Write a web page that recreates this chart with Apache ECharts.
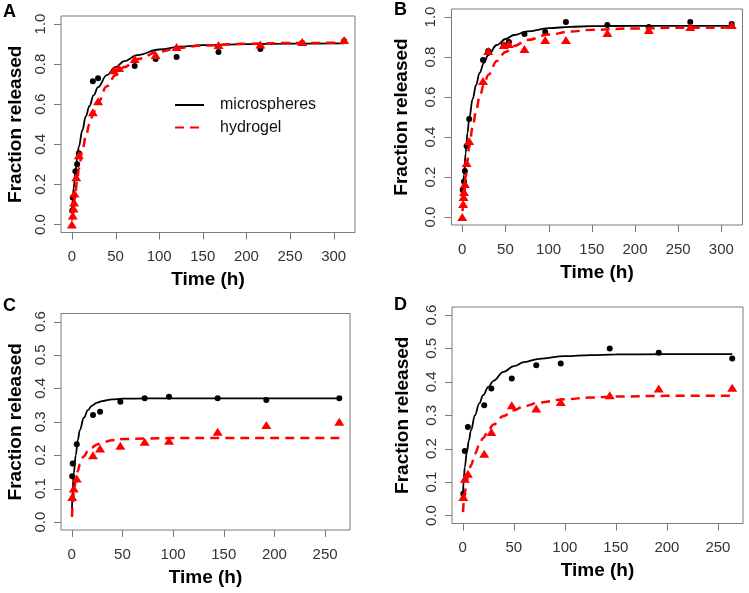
<!DOCTYPE html>
<html><head><meta charset="utf-8">
<script src="https://cdn.jsdelivr.net/npm/echarts@6/dist/echarts.min.js"></script>
<style>html,body{margin:0;padding:0;background:#fff}#c{width:749px;height:593px}</style>
</head><body><div id="c"></div>
<script>
// ---- labels / ticks ----
const panelLabels = ['A', 'B', 'C', 'D'];
const xTicksAB = [0, 50, 100, 150, 200, 250, 300];
const xTicksCD = [0, 50, 100, 150, 200, 250];
const yTicksAB = [0, 0.2, 0.4, 0.6, 0.8, 1.0];
const yTicksCD = [0, 0.1, 0.2, 0.3, 0.4, 0.5, 0.6];
const xTitle = 'Time (h)';
const yTitle = 'Fraction released';
const legendNames = ['microspheres', 'hydrogel'];

// ---- Panel A ----
const A_msPoints = [[0.5,0.07],[1,0.135],[4,0.265],[6,0.3],[8,0.355],[24,0.715],[30,0.73],[48,0.765],[72,0.79],[96,0.825],[120,0.835],[168,0.86],[216,0.875],[264,0.905],[312,0.915]];
const A_hgPoints = [[0,0],[1,0.045],[2,0.08],[2.5,0.11],[3,0.155],[5,0.235],[8,0.345],[24,0.56],[30,0.615],[48,0.77],[54,0.78],[72,0.825],[96,0.845],[120,0.885],[168,0.895],[216,0.898],[264,0.91],[312,0.92]];
const A_msCurve = [[0.3,0.08],[1,0.13],[2,0.18],[4,0.26],[6,0.33],[8,0.39],[12,0.47],[16,0.54],[20,0.59],[25,0.645],[30,0.685],[40,0.745],[50,0.785],[60,0.815],[75,0.845],[100,0.873],[125,0.887],[150,0.895],[200,0.9],[250,0.902],[312,0.903]];
const A_hgCurve = [[0.3,0.02],[1,0.05],[2,0.09],[4,0.16],[6,0.22],[8,0.28],[12,0.37],[16,0.44],[20,0.5],[25,0.56],[30,0.61],[40,0.69],[50,0.745],[60,0.785],[75,0.825],[100,0.862],[125,0.882],[150,0.893],[200,0.902],[250,0.905],[312,0.907]];

// ---- Panel B ----
const B_msPoints = [[0.5,0.135],[2,0.178],[3,0.23],[5,0.355],[8,0.49],[24,0.785],[30,0.83],[48,0.86],[54,0.875],[72,0.915],[96,0.925],[120,0.975],[168,0.96],[216,0.95],[264,0.975],[312,0.965]];
const B_hgPoints = [[0,0],[1,0.065],[1.5,0.1],[2,0.125],[3,0.165],[5,0.27],[8,0.38],[24,0.68],[30,0.83],[48,0.86],[54,0.865],[72,0.84],[96,0.885],[120,0.885],[168,0.92],[216,0.935],[264,0.95],[312,0.96]];
const B_msCurve = [[0.3,0.1],[1,0.15],[2,0.21],[4,0.32],[6,0.42],[8,0.49],[12,0.59],[16,0.66],[20,0.72],[25,0.77],[30,0.81],[40,0.86],[50,0.89],[60,0.91],[75,0.928],[100,0.944],[125,0.951],[150,0.954],[200,0.956],[250,0.956],[312,0.956]];
const B_hgCurve = [[0.3,0.03],[1,0.07],[2,0.12],[4,0.2],[6,0.28],[8,0.35],[12,0.45],[16,0.53],[20,0.6],[25,0.66],[30,0.71],[40,0.78],[50,0.825],[60,0.855],[75,0.885],[100,0.912],[125,0.927],[150,0.936],[200,0.943],[250,0.946],[312,0.947]];

// ---- Panel C ----
const C_msPoints = [[0.5,0.137],[1,0.175],[5,0.233],[21,0.32],[28,0.33],[48,0.36],[72,0.37],[96,0.375],[144,0.37],[192,0.365],[264,0.37]];
const C_hgPoints = [[0.5,0.075],[2,0.1],[5,0.13],[21,0.2],[28,0.22],[48,0.228],[72,0.24],[96,0.243],[144,0.27],[192,0.29],[264,0.3]];
const C_msCurve = [[0.3,0.04],[1,0.1],[2,0.145],[4,0.2],[6,0.245],[8,0.275],[12,0.312],[16,0.335],[20,0.348],[25,0.357],[30,0.362],[40,0.367],[50,0.369],[75,0.37],[100,0.37],[150,0.37],[200,0.37],[264,0.37]];
const C_hgCurve = [[0.3,0.015],[1,0.05],[2,0.085],[4,0.125],[6,0.152],[8,0.172],[12,0.197],[16,0.212],[20,0.223],[25,0.232],[30,0.238],[40,0.245],[50,0.248],[75,0.25],[100,0.251],[150,0.251],[200,0.251],[264,0.251]];

// ---- Panel D ----
const D_msPoints = [[0.5,0.065],[2,0.193],[5,0.265],[21,0.33],[28,0.38],[48,0.41],[72,0.45],[96,0.455],[144,0.5],[192,0.487],[264,0.47]];
const D_hgPoints = [[0.5,0.055],[2,0.11],[5,0.125],[21,0.185],[28,0.25],[48,0.33],[72,0.32],[96,0.34],[144,0.36],[192,0.38],[264,0.382]];
const D_msCurve = [[0.3,0.07],[1,0.11],[2,0.145],[4,0.19],[6,0.225],[8,0.255],[12,0.3],[16,0.335],[20,0.36],[25,0.385],[30,0.403],[40,0.43],[50,0.447],[60,0.459],[75,0.469],[100,0.477],[125,0.48],[150,0.482],[200,0.483],[264,0.483]];
const D_hgCurve = [[0.3,0.01],[1,0.04],[2,0.07],[4,0.105],[6,0.13],[8,0.15],[12,0.185],[16,0.21],[20,0.232],[25,0.255],[30,0.272],[40,0.298],[50,0.315],[60,0.327],[75,0.338],[100,0.348],[125,0.353],[150,0.356],[200,0.358],[264,0.358]];

// ---- layout ----
const FONT = 'Liberation Sans, Arial, sans-serif';
const BOX = '#7a7a7a';
const TICKLEN = 7;
const grids = [
  {left: 61,    top: 16,    width: 294, height: 216.5},
  {left: 451.5, top: 9,     width: 291, height: 216},
  {left: 61,    top: 313.5, width: 289, height: 216.5},
  {left: 452,   top: 307,   width: 291, height: 216.5}
];
const xRanges = [[-12.48, 324.48], [-12.48, 324.48], [-10.56, 274.56], [-10.56, 274.56]];
const yRanges = [[-0.04, 1.04], [-0.04, 1.04], [-0.024, 0.624], [-0.024, 0.624]];
const xTicks = [xTicksAB, xTicksAB, xTicksCD, xTicksCD];
const yTicks = [yTicksAB, yTicksAB, yTicksCD, yTicksCD];
const yNameGap = [36, 40, 36, 40];
const panels = [
  [A_msPoints, A_hgPoints, A_msCurve, A_hgCurve],
  [B_msPoints, B_hgPoints, B_msCurve, B_hgCurve],
  [C_msPoints, C_hgPoints, C_msCurve, C_hgCurve],
  [D_msPoints, D_hgPoints, D_msCurve, D_hgCurve]
];
const letterPos = [[3, 3], [394, 1], [3, 297], [394, 296]];

const option = {
  animation: false,
  backgroundColor: '#fff',
  title: panelLabels.map((t, i) => ({
    text: t, left: letterPos[i][0], top: letterPos[i][1], padding: 0,
    textStyle: {fontFamily: FONT, fontWeight: 'bold', fontSize: 18, color: '#000'}
  })),
  legend: {
    data: legendNames.map(n => ({name: n})),
    left: 174, top: 97, orient: 'vertical',
    itemWidth: 29, itemHeight: 14, itemGap: 6.5, padding: 0,
    itemStyle: {opacity: 0},
    textStyle: {fontFamily: FONT, fontSize: 16, color: '#111', padding: [0, 0, 0, 11]},
    selectedMode: false
  },
  grid: grids.map(g => Object.assign({show: true, borderColor: BOX, borderWidth: 1, backgroundColor: 'transparent'}, g)),
  xAxis: grids.map((g, i) => ({
    type: 'value', gridIndex: i, min: xRanges[i][0], max: xRanges[i][1],
    name: xTitle, nameLocation: 'middle', nameGap: 38,
    nameTextStyle: {fontFamily: FONT, fontWeight: 'bold', fontSize: 19, color: '#000'},
    axisLine: {show: false, onZero: false}, splitLine: {show: false}, axisTick: {show: false},
    axisLabel: {customValues: xTicks[i], margin: 17, fontSize: 15, color: '#333', fontFamily: FONT}
  })),
  yAxis: grids.map((g, i) => ({
    type: 'value', gridIndex: i, min: yRanges[i][0], max: yRanges[i][1],
    name: yTitle, nameLocation: 'middle', nameGap: yNameGap[i], nameRotate: 90,
    nameTextStyle: {fontFamily: FONT, fontWeight: 'bold', fontSize: 19, color: '#000'},
    axisLine: {show: false, onZero: false}, splitLine: {show: false}, axisTick: {show: false},
    axisLabel: {customValues: yTicks[i], rotate: 90, margin: 13, fontSize: 15, color: '#333', fontFamily: FONT,
      formatter: v => Number(v).toFixed(1)}
  })),
  series: []
};

// tick marks at the tick values, placed through the axes' scales
function tickSeries(i, values, isX) {
  return {
    type: 'custom', xAxisIndex: i, yAxisIndex: i, silent: true, clip: false, z: 1,
    data: values.map(v => [v]),
    renderItem: function (params, api) {
      const v = api.value(0);
      const cs = params.coordSys;
      if (isX) {
        const x = Math.round(api.coord([v, yRanges[i][0]])[0]) + 0.5;
        const y = cs.y + cs.height;
        return {type: 'line', shape: {x1: x, y1: y, x2: x, y2: y + TICKLEN}, style: {stroke: BOX, lineWidth: 1}};
      }
      const y = Math.round(api.coord([xRanges[i][0], v])[1]) + 0.5;
      const x = cs.x;
      return {type: 'line', shape: {x1: x, y1: y, x2: x - TICKLEN, y2: y}, style: {stroke: BOX, lineWidth: 1}};
    }
  };
}

panels.forEach((p, i) => {
  const suffix = i === 0 ? '' : ' ' + panelLabels[i];
  option.series.push(tickSeries(i, xTicks[i], true));
  option.series.push(tickSeries(i, yTicks[i], false));
  option.series.push({
    type: 'scatter', name: 'ms points' + suffix, xAxisIndex: i, yAxisIndex: i, data: p[0],
    symbol: 'circle', symbolSize: 6, itemStyle: {color: '#000', opacity: 1}, z: 2, silent: true
  });
  option.series.push({
    type: 'line', name: legendNames[0] + suffix, xAxisIndex: i, yAxisIndex: i, data: p[2],
    symbol: 'none', smooth: 0.4, smoothMonotone: 'x', lineStyle: {color: '#000', width: 1.8}, itemStyle: {color: '#000'}, z: 3, silent: true
  });
  option.series.push({
    type: 'scatter', name: 'hg points' + suffix, xAxisIndex: i, yAxisIndex: i, data: p[1],
    symbol: 'triangle', symbolSize: [10, 8], itemStyle: {color: '#ff0000', opacity: 1}, z: 4, silent: true
  });
  option.series.push({
    type: 'line', name: legendNames[1] + suffix, xAxisIndex: i, yAxisIndex: i, data: p[3],
    symbol: 'none', smooth: 0.4, smoothMonotone: 'x', lineStyle: {color: '#ff0000', width: 2.5, type: [9, 6]}, itemStyle: {color: '#ff0000'}, z: 5, silent: true
  });
});

const chart = echarts.init(document.getElementById('c'), null, {renderer: 'canvas'});
chart.setOption(option);
</script>
</body></html>
